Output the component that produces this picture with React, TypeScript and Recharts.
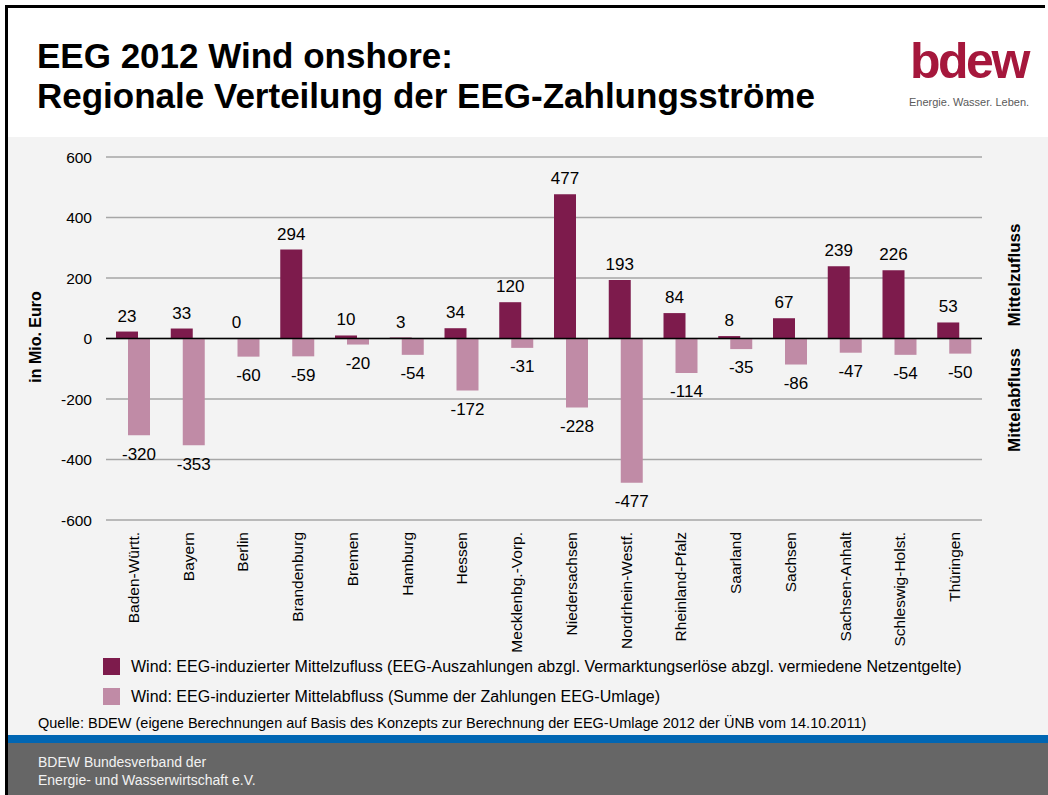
import React from 'react';
import { BarChart, Bar, XAxis, YAxis, CartesianGrid, ReferenceLine, LabelList } from 'recharts';

const states = [
  'Baden-Württ.', 'Bayern', 'Berlin', 'Brandenburg', 'Bremen', 'Hamburg', 'Hessen', 'Mecklenbg.-Vorp.',
  'Niedersachsen', 'Nordrhein-Westf.', 'Rheinland-Pfalz', 'Saarland', 'Sachsen', 'Sachsen-Anhalt',
  'Schleswig-Holst.', 'Thüringen',
];
const zufluss = [23, 33, 0, 294, 10, 3, 34, 120, 477, 193, 84, 8, 67, 239, 226, 53];
const abfluss = [-320, -353, -60, -59, -20, -54, -172, -31, -228, -477, -114, -35, -86, -47, -54, -50];
const yTicks = [-600, -400, -200, 0, 200, 400, 600];

const seriesNames = [
  'Wind: EEG-induzierter Mittelzufluss (EEG-Auszahlungen abzgl. Vermarktungserlöse abzgl. vermiedene Netzentgelte)',
  'Wind: EEG-induzierter Mittelabfluss (Summe der Zahlungen EEG-Umlage)',
];
const seriesColors = ['#7d1b4c', '#c08ba6'];

const data = states.map((name, i) => ({ name, zufluss: zufluss[i], abfluss: abfluss[i] }));

const FONT = 'Arial, "Liberation Sans", Helvetica, sans-serif';

function StateTick(props: any) {
  const { x, y, payload } = props;
  return (
    <g transform={`translate(${x},${y})`}>
      <text transform="rotate(-90)" x={0} y={0} dy="0.35em" textAnchor="end" fontSize={15.5} fill="#000">
        {payload.value}
      </text>
    </g>
  );
}

// value labels: above the bar end for inflows, below it for outflows
function TopLabel(props: any) {
  const { x, y, width, height, value } = props;
  const top = Math.min(y, y + height);
  return (
    <text x={x + width / 2} y={top - 10} textAnchor="middle" fontSize={17} fill="#000">{String(value)}</text>
  );
}

function BottomLabel(props: any) {
  const { x, y, width, height, value } = props;
  const bottom = Math.max(y, y + height);
  return (
    <text x={x + width / 2} y={bottom + 12} dy="0.72em" textAnchor="middle" fontSize={17} fill="#000">{String(value)}</text>
  );
}

function SideLabel({ text, x, y, size }: { text: string; x: number; y: number; size: number }) {
  return (
    <div
      style={{
        position: 'absolute', left: x, top: y, transform: 'translate(-50%, -50%) rotate(-90deg)',
        fontSize: size, fontWeight: 'bold', whiteSpace: 'nowrap', color: '#000',
      }}
    >
      {text}
    </div>
  );
}

export default function App() {
  return (
    <div style={{ position: 'absolute', left: 0, top: 0, width: 1048, height: 795, background: '#fff', fontFamily: FONT, overflow: 'hidden' }}>
      {/* slide frame */}
      <div style={{ position: 'absolute', left: 5, top: 5, width: 1040, height: 3, background: '#000' }} />
      <div style={{ position: 'absolute', left: 5, top: 5, width: 3, height: 790, background: '#000' }} />
      <div style={{ position: 'absolute', left: 8, top: 137, width: 1040, height: 598, background: '#f3f3f3' }} />
      <div style={{ position: 'absolute', left: 8, top: 735, width: 1040, height: 8, background: '#0066b3' }} />
      <div style={{ position: 'absolute', left: 8, top: 743, width: 1040, height: 52, background: '#666666' }} />

      <div style={{ position: 'absolute', left: 37, top: 36, fontSize: 35, lineHeight: '40px', fontWeight: 'bold', color: '#000', whiteSpace: 'nowrap' }}>
        EEG 2012 Wind onshore:<br />Regionale Verteilung der EEG-Zahlungsströme
      </div>

      <div style={{ position: 'absolute', left: 910, top: 31, fontSize: 50, lineHeight: '60px', fontWeight: 'bold', color: '#a5173c', letterSpacing: -2.5 }}>
        bdew
      </div>
      <div style={{ position: 'absolute', left: 909, top: 95, fontSize: 11, lineHeight: '14px', color: '#5a5a5a' }}>
        Energie. Wasser. Leben.
      </div>

      <div style={{ position: 'absolute', left: 0, top: 0 }}>
        <BarChart
          width={1048}
          height={660}
          data={data}
          margin={{ top: 157, right: 66, bottom: 10, left: 0 }}
          barSize={22}
          barGap={-10}
          style={{ fontFamily: FONT }}
        >
          <CartesianGrid vertical={false} stroke="#a6a6a6" strokeWidth={1.5} />
          <XAxis dataKey="name" axisLine={false} tickLine={false} tickSize={0} tickMargin={12} height={130} interval={0} tick={<StateTick />} />
          <YAxis
            domain={[-600, 600]}
            ticks={yTicks}
            width={106}
            axisLine={false}
            tickLine={false}
            tickSize={0}
            tickMargin={14}
            tick={{ fontSize: 15.5, fill: '#000' }}
          />
          <Bar dataKey="zufluss" name={seriesNames[0]} fill={seriesColors[0]} minPointSize={0.5} isAnimationActive={false}>
            <LabelList dataKey="zufluss" content={<TopLabel />} />
          </Bar>
          <Bar dataKey="abfluss" name={seriesNames[1]} fill={seriesColors[1]} isAnimationActive={false}>
            <LabelList dataKey="abfluss" content={<BottomLabel />} />
          </Bar>
          <ReferenceLine y={0} stroke="#000" strokeWidth={1.5} />
        </BarChart>
      </div>

      <SideLabel text="in Mio. Euro" x={36} y={337} size={16} />
      <SideLabel text="Mittelzufluss" x={1015} y={275} size={17} />
      <SideLabel text="Mittelabfluss" x={1015} y={400} size={17} />

      {seriesNames.map((name, i) => (
        <div key={name} style={{ position: 'absolute', left: 103, top: 658 + i * 30, height: 17, display: 'flex', alignItems: 'center' }}>
          <div style={{ width: 17, height: 17, background: seriesColors[i] }} />
          <div style={{ marginLeft: 11, fontSize: 16, whiteSpace: 'nowrap', color: '#000' }}>{name}</div>
        </div>
      ))}

      <div style={{ position: 'absolute', left: 38, top: 715, fontSize: 14.5, lineHeight: '16px', color: '#000', whiteSpace: 'nowrap' }}>
        Quelle: BDEW (eigene Berechnungen auf Basis des Konzepts zur Berechnung der EEG-Umlage 2012 der ÜNB vom 14.10.2011)
      </div>

      <div style={{ position: 'absolute', left: 38, top: 753, fontSize: 14, lineHeight: '18px', color: '#f2f2f2' }}>
        BDEW Bundesverband der<br />Energie- und Wasserwirtschaft e.V.
      </div>
    </div>
  );
}
